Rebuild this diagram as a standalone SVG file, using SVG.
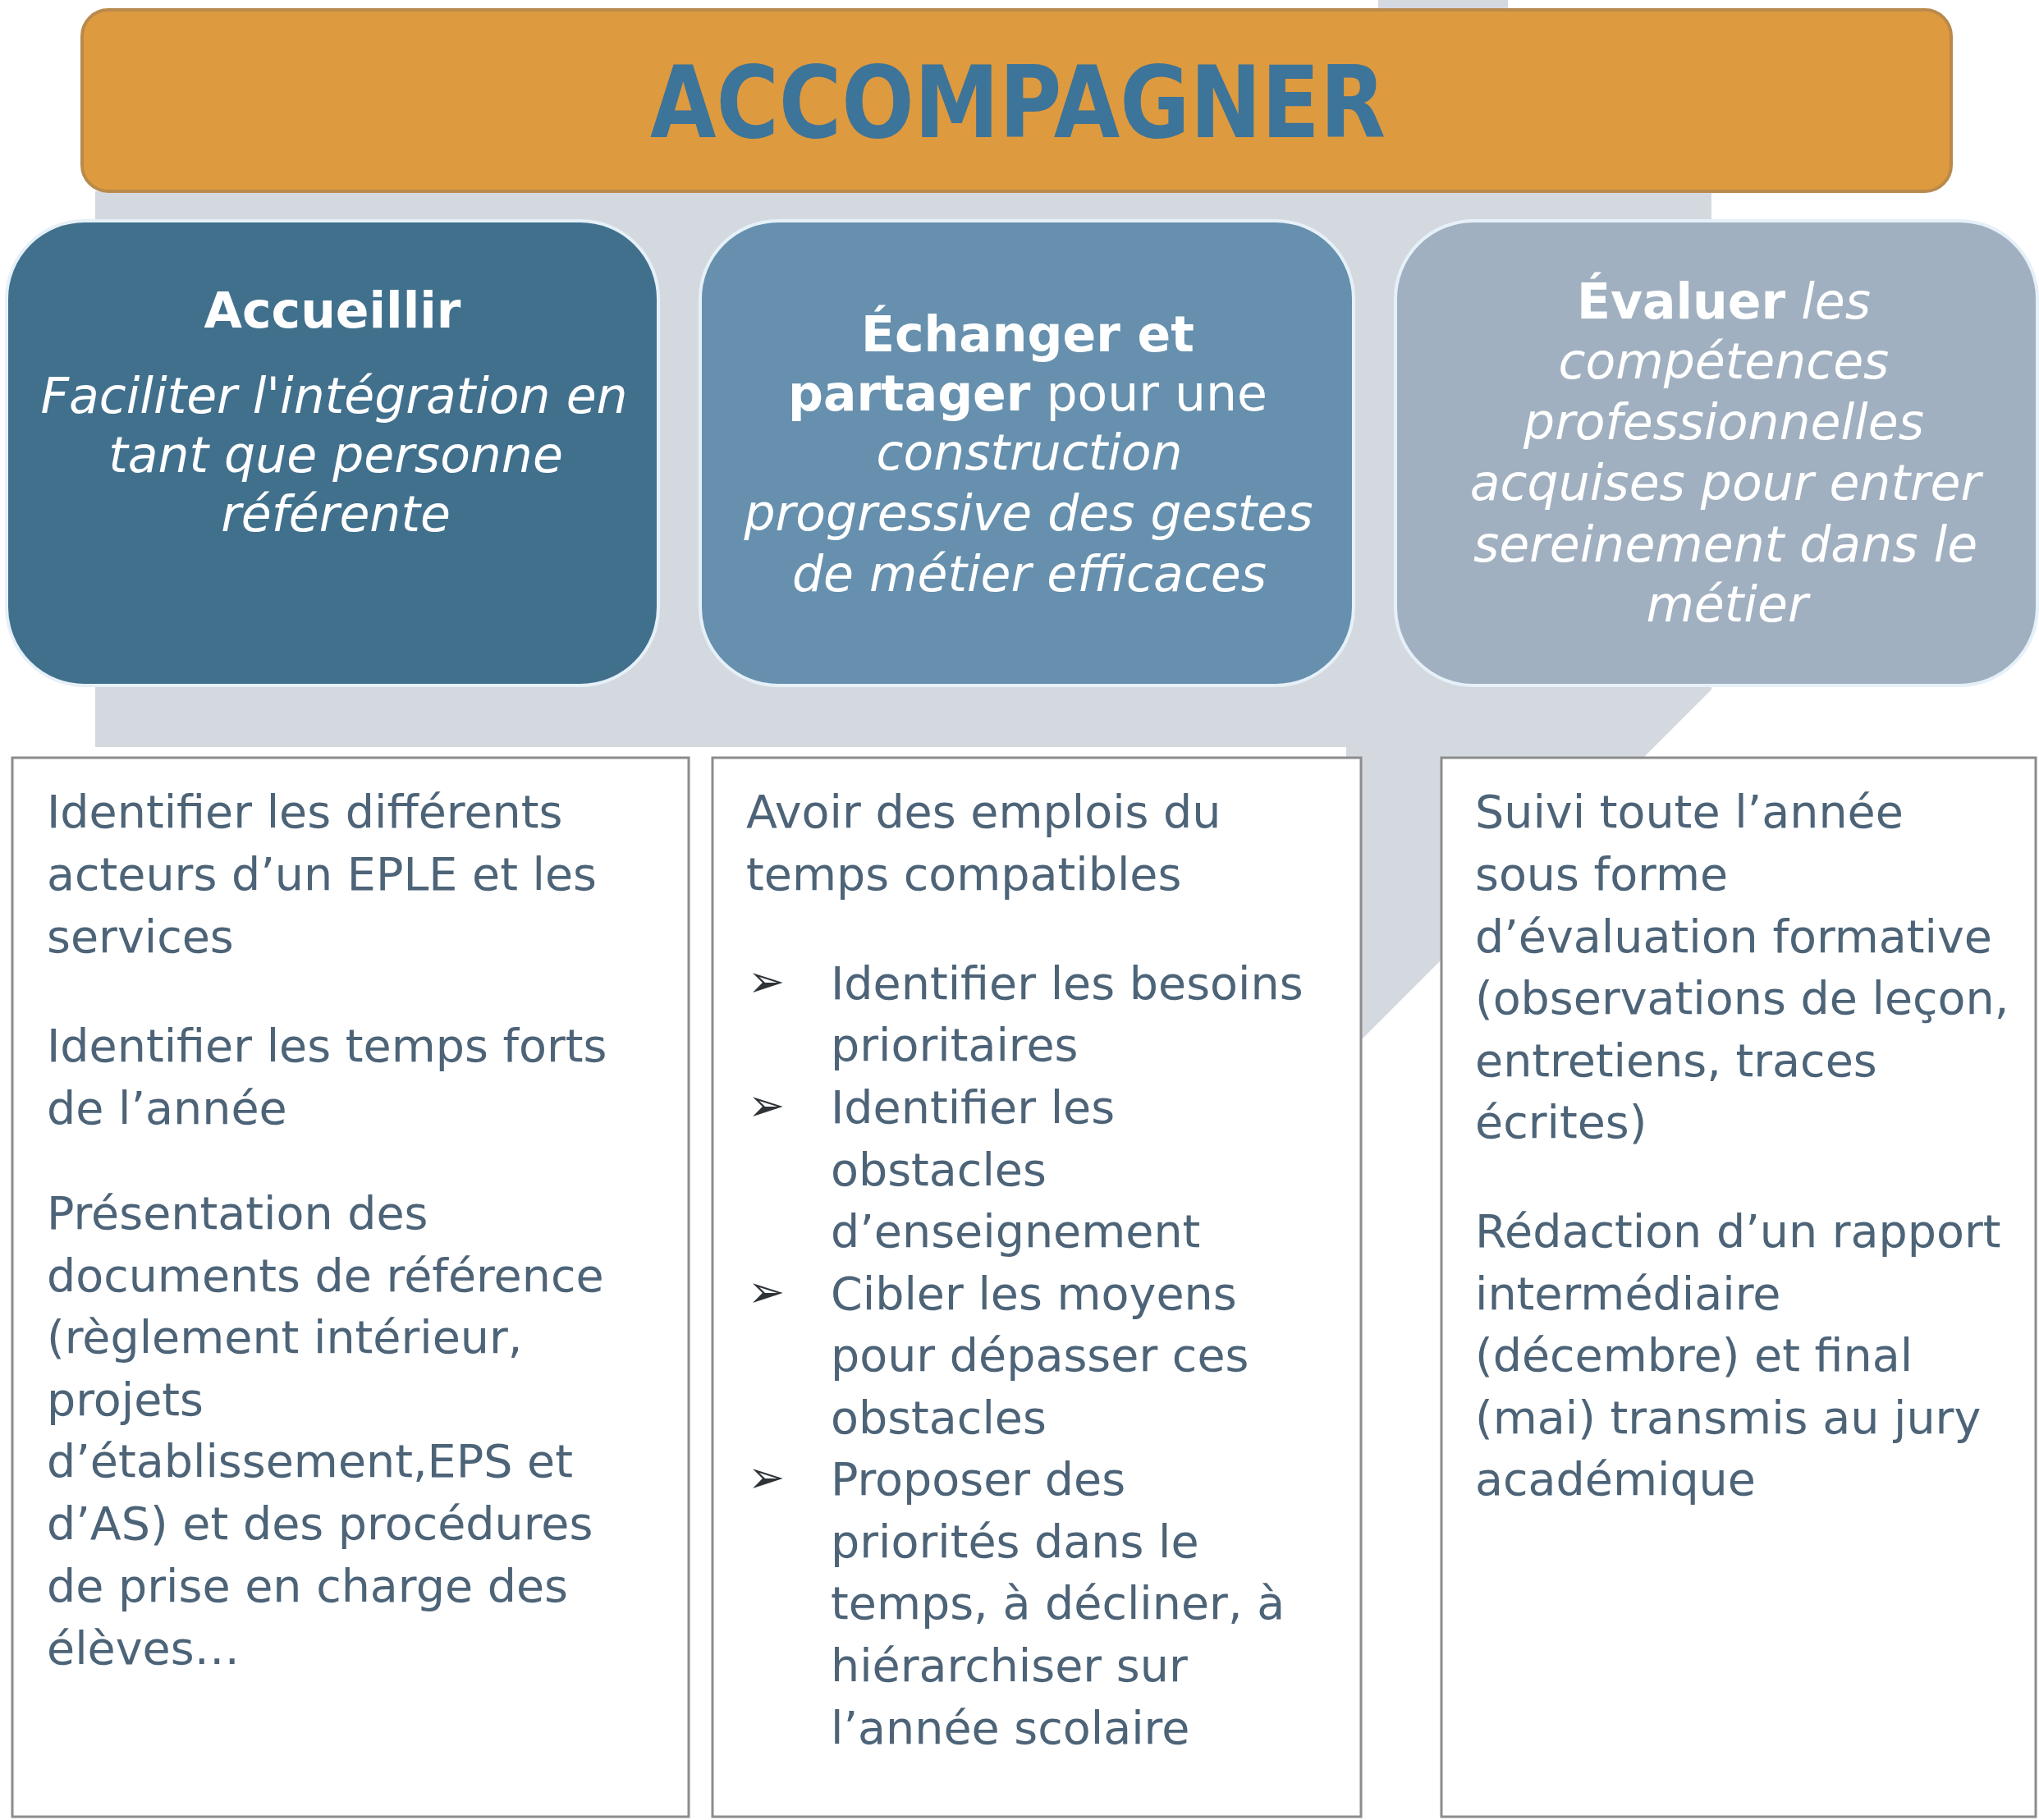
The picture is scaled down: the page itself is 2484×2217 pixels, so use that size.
<svg xmlns="http://www.w3.org/2000/svg" width="2484" height="2217" viewBox="0 0 2484 2217">
<style>
.hd{font-family:"DejaVu Sans","Liberation Sans",sans-serif;font-size:60px;fill:#ffffff;text-anchor:middle}
.b{font-weight:bold}
.i{font-style:italic}
.body{font-family:"DejaVu Sans","Liberation Sans",sans-serif;font-size:55.5px;fill:#4d6478}
.bul{font-family:"DejaVu Sans",sans-serif;font-size:54px;fill:#2e3338}
.card{fill:#ffffff;stroke:#8c8c8c;stroke-width:3}
.rbox{stroke:#e6f0f8;stroke-width:4}
</style>
<rect width="2484" height="2217" fill="#ffffff"/>
<g id="background">
<path d="M116,233 H1679 V0 H1837 V233 H2085 V840 L1640,1285 V910 H116 Z" fill="#d4d9e0"/>
</g>
<g id="accompagner">
<rect x="100" y="12" width="2277" height="221" rx="32" fill="#de9a3e" stroke="#b98a4c" stroke-width="4"/>
<text x="1240" y="167" font-family="'DejaVu Sans','Liberation Sans',sans-serif" font-weight="bold" font-size="122" fill="#3d7499" text-anchor="middle" textLength="896" lengthAdjust="spacingAndGlyphs">ACCOMPAGNER</text>
</g>
<g id="accueillir">
<rect class="rbox" x="8" y="269" width="794" height="566" rx="95" fill="#41708d"/>
<text class="hd b" x="405" y="399">Accueillir</text>
<text class="hd i" x="407" y="503">Faciliter l'intégration en</text>
<text class="hd i" x="409" y="575">tant que personne</text>
<text class="hd i" x="409" y="647">référente</text>
</g>
<g id="echanger">
<rect class="rbox" x="853" y="269" width="796" height="566" rx="95" fill="#6690ad"/>
<text class="hd b" x="1252" y="428">Échanger et</text>
<text class="hd" x="1252" y="500"><tspan class="b">partager</tspan> pour une</text>
<text class="hd i" x="1254" y="572">construction</text>
<text class="hd i" x="1253" y="646">progressive des gestes</text>
<text class="hd i" x="1254" y="720">de métier efficaces</text>
</g>
<g id="evaluer">
<rect class="rbox" x="1700" y="269" width="782" height="566" rx="95" fill="#a0b0c0"/>
<text class="hd" x="2100" y="388"><tspan class="b">Évaluer</tspan> <tspan class="i">les</tspan></text>
<text class="hd i" x="2100" y="461">compétences</text>
<text class="hd i" x="2100" y="535">professionnelles</text>
<text class="hd i" x="2102" y="609">acquises pour entrer</text>
<text class="hd i" x="2102" y="684">sereinement dans le</text>
<text class="hd i" x="2104" y="757">métier</text>
</g>
<g id="accueillir-details">
<rect class="card" x="15" y="923" width="824" height="1290"/>
<text class="body" x="57" y="1008">Identifier les différents</text>
<text class="body" x="57" y="1084">acteurs d’un EPLE et les</text>
<text class="body" x="57" y="1160">services</text>
<text class="body" x="57" y="1293">Identifier les temps forts</text>
<text class="body" x="57" y="1369">de l’année</text>
<text class="body" x="57" y="1497">Présentation des</text>
<text class="body" x="57" y="1573">documents de référence</text>
<text class="body" x="57" y="1648">(règlement intérieur,</text>
<text class="body" x="57" y="1724">projets</text>
<text class="body" x="57" y="1799">d’établissement,EPS et</text>
<text class="body" x="57" y="1875">d’AS) et des procédures</text>
<text class="body" x="57" y="1951">de prise en charge des</text>
<text class="body" x="57" y="2027">élèves…</text>
</g>
<g id="echanger-details">
<rect class="card" x="868" y="923" width="790" height="1290"/>
<text class="body" x="909" y="1008">Avoir des emplois du</text>
<text class="body" x="909" y="1084">temps compatibles</text>
<text class="bul" x="911" y="1214">➢</text>
<text class="body" x="1012" y="1217">Identifier les besoins</text>
<text class="body" x="1012" y="1292">prioritaires</text>
<text class="bul" x="911" y="1365">➢</text>
<text class="body" x="1012" y="1368">Identifier les</text>
<text class="body" x="1012" y="1444">obstacles</text>
<text class="body" x="1012" y="1519">d’enseignement</text>
<text class="bul" x="911" y="1592">➢</text>
<text class="body" x="1012" y="1595">Cibler les moyens</text>
<text class="body" x="1012" y="1670">pour dépasser ces</text>
<text class="body" x="1012" y="1746">obstacles</text>
<text class="bul" x="911" y="1818">➢</text>
<text class="body" x="1012" y="1821">Proposer des</text>
<text class="body" x="1012" y="1897">priorités dans le</text>
<text class="body" x="1012" y="1972">temps, à décliner, à</text>
<text class="body" x="1012" y="2048">hiérarchiser sur</text>
<text class="body" x="1012" y="2124">l’année scolaire</text>
</g>
<g id="evaluer-details">
<rect class="card" x="1756" y="923" width="724" height="1290"/>
<text class="body" x="1797" y="1008">Suivi toute l’année</text>
<text class="body" x="1797" y="1084">sous forme</text>
<text class="body" x="1797" y="1160">d’évaluation formative</text>
<text class="body" x="1797" y="1235">(observations de leçon,</text>
<text class="body" x="1797" y="1311">entretiens, traces</text>
<text class="body" x="1797" y="1386">écrites)</text>
<text class="body" x="1797" y="1519">Rédaction d’un rapport</text>
<text class="body" x="1797" y="1595">intermédiaire</text>
<text class="body" x="1797" y="1670">(décembre) et final</text>
<text class="body" x="1797" y="1746">(mai) transmis au jury</text>
<text class="body" x="1797" y="1821">académique</text>
</g>
<g id="connectors"></g>
</svg>
